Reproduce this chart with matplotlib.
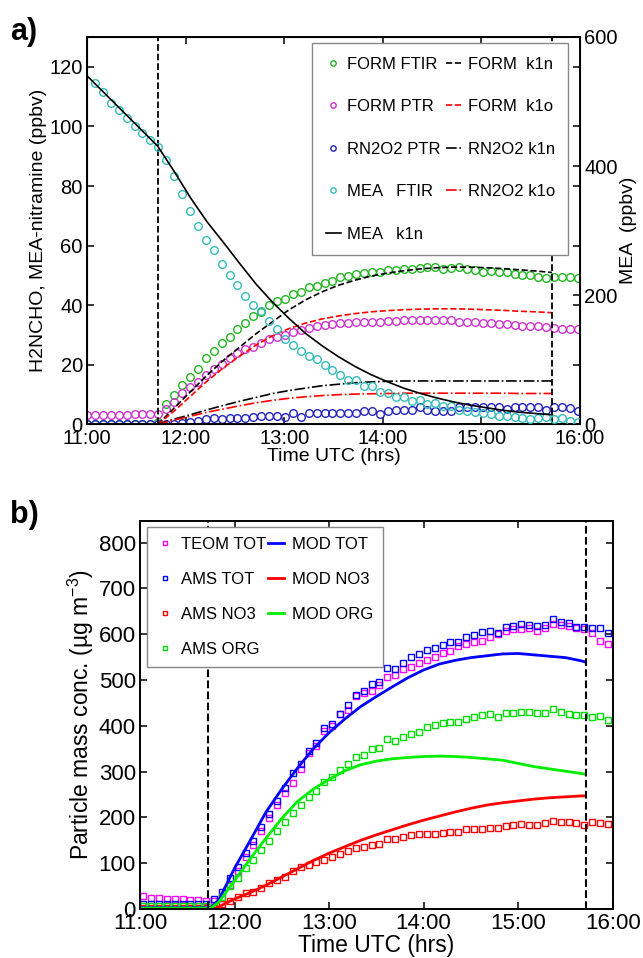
import numpy as np
import matplotlib
matplotlib.use("Agg")
import matplotlib.pyplot as plt

plt.rcParams["font.family"] = ["Liberation Sans", "DejaVu Sans"]
plt.rcParams["mathtext.default"] = "regular"

# ---------------- panel a data ----------------
# measurements sampled every ~4.8 min from 11:00 (hours UTC)
a_obs_time = 11.0 + np.arange(63) * 0.0803
form_ftir = [0] * 9 + [1.0,
             6.8, 9.9, 13.3, 15.9, 18.5, 22.2, 24.8, 27.3, 29.5, 32.0,
             34.2, 36.5, 37.9, 40.1, 41.3, 42.2, 43.8, 44.6, 46.1, 46.5,
             47.4, 48.3, 49.4, 49.9, 50.6, 50.8, 51.0, 51.3, 51.7, 51.9,
             52.1, 52.3, 52.6, 52.7, 53.0, 52.2, 52.5, 52.7, 52.3, 51.9,
             51.3, 51.5, 51.0, 51.0, 50.6, 50.2, 50.2, 49.6, 49.1, 49.6,
             49.6, 49.4, 49.1]
form_ptr = [3.3, 3.3, 3.3, 3.3, 3.3, 3.3, 3.4, 3.4, 3.5, 3.6,
            5.1, 7.7, 10.5, 12.5, 14.4, 16.6, 18.5, 20.2, 22.2, 23.9,
            25.3, 26.1, 27.3, 28.6, 29.5, 30.1, 31.0, 31.7, 32.3, 32.9,
            33.4, 33.8, 34.0, 34.2, 34.3, 34.5, 34.5, 34.5, 34.8, 34.8,
            34.9, 34.9, 35.1, 34.9, 34.9, 34.9, 34.9, 34.5, 34.5, 34.3,
            34.2, 34.0, 33.8, 33.8, 33.4, 33.1, 32.9, 32.9, 32.7, 32.3,
            32.1, 32.0, 32.0]
rn2o2_ptr = [0] * 12 + [0.6, 0.9, 1.2, 1.7, 2.1, 1.7, 2.1, 2.1, 2.1, 2.6,
             2.9, 2.9, 2.9, 2.6, 3.8, 2.6, 3.8, 3.8, 3.8, 3.8,
             3.8, 3.8, 3.8, 4.6, 4.6, 3.5, 4.6, 4.9, 4.9, 4.9,
             5.8, 4.9, 4.6, 4.6, 4.6, 5.8, 6.0, 6.0, 6.0, 6.0,
             5.8, 5.1, 5.8, 5.8, 5.8, 5.8, 4.9, 6.0, 6.0, 5.5, 4.6]
mea_ftir = [np.nan,
            529, 515, 498, 487, 475, 462, 451, 441, 430, 409,
            385, 357, 331, 308, 286, 270, 248, 232, 216, 199,
            185, 175, 161, 148, 133, 123, 114, 106, 101, 92,
            84, 77, 69, 69, 60, 59, 51, 48, 43, 43,
            36, 38, 31, 33, 28, 28, 23, 21, 20, 18,
            16, 13, 13, 12, 10, 8, 10, 11, 8, 10, 6, 4]

# model runs, every 10 min from the start of the experiment (11:43)
a_mod_time = 11 + 43 / 60 + np.arange(25) / 6
form_k1n = [0, 5.5, 11, 16.5, 21.5, 26, 30.5, 34.5, 38.5, 41.8, 44.5, 46.7,
            48.4, 49.8, 50.8, 51.6, 52.2, 52.6, 52.8, 52.8, 52.6, 52.3,
            51.9, 51.5, 51]
form_k1o = [0, 4.5, 9.5, 14.5, 19, 23, 26.7, 29.8, 32.2, 34, 35.4, 36.4,
            37.2, 37.8, 38.2, 38.5, 38.7, 38.8, 38.8, 38.7, 38.5, 38.3,
            38.0, 37.8, 37.5]
rn2o2_k1n = [0, 1.8, 3.3, 4.9, 6.4, 7.8, 9.1, 10.4, 11.4, 12.2, 13.0, 13.5,
             14.0, 14.3, 14.5, 14.6, 14.6, 14.6, 14.6, 14.6, 14.6, 14.6,
             14.6, 14.6, 14.6]
rn2o2_k1o = [0, 1.5, 2.8, 4.1, 5.2, 6.3, 7.3, 8.1, 8.8, 9.3, 9.7, 10.0, 10.2,
             10.3, 10.4, 10.5, 10.5, 10.5, 10.5, 10.5, 10.5, 10.5, 10.4,
             10.4, 10.4]
mea_mod_time = np.concatenate([[11.0], a_mod_time])
mea_k1n = [540, 431, 392, 351, 314, 282, 249, 217, 189, 164, 141, 122, 105,
           90, 77, 66, 56, 48, 41, 35, 30, 26, 22, 19, 17, 15]

# ---------------- panel b data ----------------
b_obs_time = 11 + 2 / 60 + np.arange(60) * 5 / 60
teom_tot = [28, 25, 24, 23, 22, 21, 20, 19, 18, 18,
            25, 52, 82, 113, 140, 171, 198, 227, 253, 276,
            305, 340, 355, 388, 400, 425, 435, 465, 471, 476,
            490, 506, 511, 525, 529, 538, 544, 550, 560, 564,
            575, 579, 582, 585, 595, 600, 607, 611, 612, 614,
            608, 614, 622, 620, 617, 613, 611, 602, 585, 578]
ams_tot = [12, 12, 12, 11, 11, 11, 11, 11, 11, 23, 38,
           67, 92, 122, 149, 180, 207, 236, 264, 296,
           317, 346, 362, 395, 405, 426, 446, 467, 477, 491,
           496, 527, 524, 538, 551, 557, 566, 569, 576, 582,
           584, 593, 598, 604, 608, 602, 616, 619, 622, 620,
           618, 620, 633, 626, 624, 616, 615, 613, 614, 603]
ams_no3 = [3, 3, 3, 3, 3, 3, 3, 3, 3, 2,
           11, 18, 27, 34, 38, 45, 56, 63, 71, 84,
           91, 96, 103, 107, 114, 120, 127, 133, 135, 140,
           142, 152, 154, 158, 162, 164, 164, 164, 167, 169,
           169, 174, 174, 174, 176, 176, 181, 183, 186, 183,
           183, 187, 193, 191, 190, 187, 183, 189, 187, 186]
ams_org = [7, 7, 7, 7, 7, 7, 7, 7, 7, 5, 27, 50,
           67, 89, 107, 129, 149, 171, 191, 210, 227, 245,
           258, 278, 289, 304, 316, 333, 336, 349, 351, 371,
           368, 376, 382, 387, 397, 402, 406, 409, 409, 414,
           420, 424, 425, 419, 427, 429, 430, 430, 427, 427,
           436, 430, 426, 424, 424, 420, 421, 413]

b_mod_time = np.concatenate([[11.0, 11.75], 11 + 50 / 60 + np.arange(24) / 6, [15.7]])
mod_tot = [3, 3, 20, 89, 150, 212, 262, 308, 350, 385, 415, 442, 464, 485,
           505, 522, 535, 543, 549, 553, 557, 558, 555, 552, 549, 542, 540]
mod_no3 = [0, 0, 5, 22, 36, 52, 70, 88, 106, 122, 136, 150, 162, 173, 184,
           194, 203, 212, 220, 227, 232, 236, 240, 243, 245, 247, 247]
mod_org = [2, 2, 15, 62, 110, 155, 198, 235, 262, 283, 302, 315, 323, 328,
           331, 333, 334, 333, 331, 328, 325, 318, 311, 306, 301, 296, 295]

exp_start = 11 + 43 / 60
exp_end = 15 + 43 / 60
hour_ticks = [11, 12, 13, 14, 15, 16]
hour_labels = ["11:00", "12:00", "13:00", "14:00", "15:00", "16:00"]


def style_axis(ax, size):
    ax.set_xlim(11, 16)
    ax.set_xticks(hour_ticks)
    ax.set_xticklabels(hour_labels)
    ax.tick_params(direction="in", length=5, width=1.1, labelsize=size,
                   top=True, pad=3)
    for sp in ax.spines.values():
        sp.set_linewidth(1.4)


fig = plt.figure(figsize=(6.43, 9.58), dpi=100)

# ---------- a) ----------
ax = fig.add_axes([0.1353, 0.5569, 0.7667, 0.4045])
ax2 = ax.twinx()
circ = dict(ls="none", marker="o", mfc="none", ms=5.5, mew=1.0)
h_ff, = ax.plot(a_obs_time, form_ftir, color="#22b522", label="FORM FTIR", **circ)
h_fp, = ax.plot(a_obs_time, form_ptr, color="#cc33cc", label="FORM PTR", **circ)
h_rp, = ax.plot(a_obs_time, rn2o2_ptr, color="#2222bb", label="RN2O2 PTR", **circ)
h_fn, = ax.plot(a_mod_time, form_k1n, color="k", ls="--", lw=1.2, label="FORM  k1n")
h_fo, = ax.plot(a_mod_time, form_k1o, color="red", ls="--", lw=1.2, label="FORM  k1o")
h_rn, = ax.plot(a_mod_time, rn2o2_k1n, color="k", ls="-.", lw=1.2, label="RN2O2 k1n")
h_ro, = ax.plot(a_mod_time, rn2o2_k1o, color="red", ls="-.", lw=1.2, label="RN2O2 k1o")
h_mf, = ax2.plot(a_obs_time, mea_ftir, color="#33bbbb", label="MEA   FTIR", **circ)
h_mn, = ax2.plot(mea_mod_time, mea_k1n, color="k", lw=1.2, label="MEA   k1n")
for t in (exp_start, exp_end):
    ax.axvline(t, color="k", ls="--", lw=1.3)

ax.set_ylim(0, 130)
ax.set_yticks([0, 20, 40, 60, 80, 100, 120])
ax2.set_ylim(0, 600)
ax2.set_yticks([0, 200, 400, 600])
style_axis(ax, 14.5)
ax.tick_params(right=True)
ax2.tick_params(direction="in", length=5, width=1.1, labelsize=14.5, pad=3)
ax.set_ylabel("H2NCHO, MEA-nitramine (ppbv)", fontsize=14, labelpad=2)
ax2.set_ylabel("MEA  (ppbv)", fontsize=14, labelpad=2)
ax.set_xlabel("Time UTC (hrs)", fontsize=14, labelpad=0)

handles = [h_ff, h_fp, h_rp, h_mf, h_mn, h_fn, h_fo, h_rn, h_ro]
leg = ax2.legend(handles=handles, ncol=2, loc="upper right",
                 bbox_to_anchor=(0.976, 0.984), borderaxespad=0,
                 fontsize=12, fancybox=False, framealpha=1, edgecolor="#888888",
                 markerscale=0.7, handlelength=0.9, handletextpad=0.4,
                 columnspacing=0.3, labelspacing=1.65, borderpad=0.8)
leg.get_frame().set_linewidth(1.0)

# ---------- b) ----------
bx = fig.add_axes([0.2177, 0.0511, 0.7352, 0.4054])
sq = dict(ls="none", marker="s", mfc="none", ms=4.8, mew=1.0)
g_teom, = bx.plot(b_obs_time, teom_tot, color="#ff00ff", label="TEOM TOT", **sq)
g_atot, = bx.plot(b_obs_time, ams_tot, color="#0000ff", label="AMS TOT", **sq)
g_ano3, = bx.plot(b_obs_time, ams_no3, color="#ff0000", label="AMS NO3", **sq)
g_aorg, = bx.plot(b_obs_time, ams_org, color="#00dd00", label="AMS ORG", **sq)
g_mtot, = bx.plot(b_mod_time, mod_tot, color="#0000ff", lw=2, label="MOD TOT")
g_mno3, = bx.plot(b_mod_time, mod_no3, color="#ff0000", lw=2, label="MOD NO3")
g_morg, = bx.plot(b_mod_time, mod_org, color="#00ee00", lw=2, label="MOD ORG")
for t in (exp_start, exp_end):
    bx.axvline(t, color="k", ls="--", lw=1.5)

bx.set_ylim(0, 848)
bx.set_yticks(range(0, 801, 100))
style_axis(bx, 16)
bx.tick_params(right=True)
bx.set_ylabel("Particle mass conc. (µg m$^{-3}$)", fontsize=16.5, labelpad=2)
bx.set_xlabel("Time UTC (hrs)", fontsize=16.5, labelpad=0)
legb = bx.legend(handles=[g_teom, g_atot, g_ano3, g_aorg, g_mtot, g_mno3, g_morg],
                 ncol=2, loc="upper left", bbox_to_anchor=(0.0142, 0.9845),
                 borderaxespad=0, fontsize=12, fancybox=False, framealpha=1,
                 edgecolor="#888888", markerscale=0.7, handlelength=1.0,
                 handletextpad=0.45, columnspacing=0.1, labelspacing=1.2,
                 borderpad=0.6)
legb.get_frame().set_linewidth(1.0)

fig.text(0.016, 0.967, "a)", fontsize=22, fontweight="bold", va="center")
fig.text(0.016, 0.4624, "b)", fontsize=22, fontweight="bold", va="center")

fig.savefig("out.png", dpi=100)
